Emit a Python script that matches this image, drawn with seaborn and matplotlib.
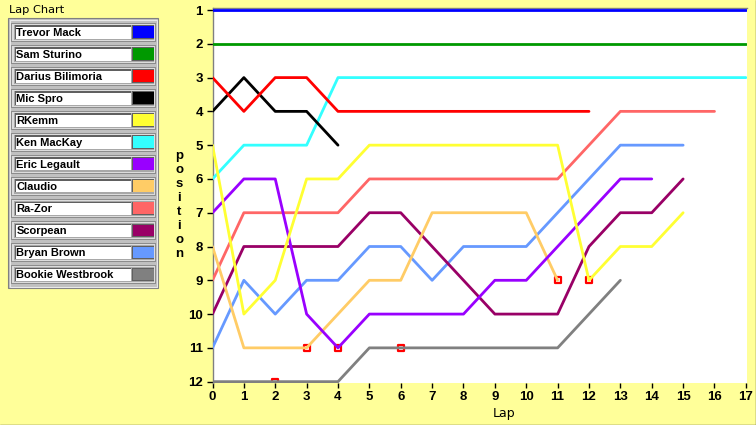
import matplotlib
matplotlib.use("Agg")
import matplotlib.pyplot as plt
from matplotlib.patches import Rectangle
from matplotlib.lines import Line2D
import numpy as np
import pandas as pd
import seaborn as sns

# ---------------- data ----------------
drivers = ["Trevor Mack", "Sam Sturino", "Darius Bilimoria", "Mic Spro", "RKemm",
           "Ken MacKay", "Eric Legault", "Claudio", "Ra-Zor", "Scorpean",
           "Bryan Brown", "Bookie Westbrook"]
colors = ["#0000FF", "#009900", "#FF0000", "#000000", "#FFFF33", "#33FFFF",
          "#9900FF", "#FFCC66", "#FF6666", "#990066", "#6699FF", "#808080"]

trevor_mack = [1, 1, 1, 1, 1, 1, 1, 1, 1, 1, 1, 1, 1, 1, 1, 1, 1, 1]
sam_sturino = [2, 2, 2, 2, 2, 2, 2, 2, 2, 2, 2, 2, 2, 2, 2, 2, 2, 2]
darius_bilimoria = [3, 4, 3, 3, 4, 4, 4, 4, 4, 4, 4, 4, 4]
mic_spro = [4, 3, 4, 4, 5]
rkemm = [5, 10, 9, 6, 6, 5, 5, 5, 5, 5, 5, 5, 9, 8, 8, 7]
ken_mackay = [6, 5, 5, 5, 3, 3, 3, 3, 3, 3, 3, 3, 3, 3, 3, 3, 3, 3]
eric_legault = [7, 6, 6, 10, 11, 10, 10, 10, 10, 9, 9, 8, 7, 6, 6]
claudio = [8, 11, 11, 11, 10, 9, 9, 7, 7, 7, 7, 9]
ra_zor = [9, 7, 7, 7, 7, 6, 6, 6, 6, 6, 6, 6, 5, 4, 4, 4, 4]
scorpean = [10, 8, 8, 8, 8, 7, 7, 8, 9, 10, 10, 10, 8, 7, 7, 6]
bryan_brown = [11, 9, 10, 9, 9, 8, 8, 9, 8, 8, 8, 7, 6, 5, 5, 5]
bookie_westbrook = [12, 12, 12, 12, 12, 11, 11, 11, 11, 11, 11, 11, 10, 9]

series = [trevor_mack, sam_sturino, darius_bilimoria, mic_spro, rkemm, ken_mackay,
          eric_legault, claudio, ra_zor, scorpean, bryan_brown, bookie_westbrook]

# event markers (red squares)
event_laps = [2, 3, 4, 6, 11, 12]
event_positions = [12, 11, 11, 11, 9, 9]

lap_ticks = [0, 1, 2, 3, 4, 5, 6, 7, 8, 9, 10, 11, 12, 13, 14, 15, 16, 17]
position_ticks = [1, 2, 3, 4, 5, 6, 7, 8, 9, 10, 11, 12]

# ---------------- build long frame ----------------
rows = []
for name, vals in zip(drivers, series):
    for lap, pos in enumerate(vals):
        rows.append({"driver": name, "lap": lap, "position": pos})
df = pd.DataFrame(rows)
events = pd.DataFrame({"lap": event_laps, "position": event_positions})

# ---------------- figure ----------------
W, H = 756, 425
BG = "#FFFF99"
sns.set_style("white")
plt.rcParams["font.family"] = ["DejaVu Sans"]

fig = plt.figure(figsize=(W / 100, H / 100), dpi=100, facecolor=BG)

ax_l, ax_r, ax_t, ax_b = 212.5, 746.5, 8, 383
ax = fig.add_axes([ax_l / W, 1 - ax_b / H, (ax_r - ax_l) / W, (ax_b - ax_t) / H])
ax.set_facecolor("white")

sns.scatterplot(data=events, x="lap", y="position", marker="s", s=18,
                facecolor="none", edgecolor="#FF0000", linewidth=1.6,
                ax=ax, zorder=2, legend=False, clip_on=True)

sns.lineplot(data=df, x="lap", y="position", hue="driver",
             hue_order=drivers[::-1], palette=dict(zip(drivers, colors)),
             estimator=None, sort=False, linewidth=2.0, legend=False, ax=ax)
for ln in ax.lines:
    ln.set_zorder(3)

ax.set_xlim(0, 17.02)
ax.set_ylim(12.04, 0.94)
ax.set_xticks(lap_ticks)
ax.set_yticks(position_ticks)
tick_font = dict(family="Liberation Sans", weight="bold", size=9.5)
ax.set_xticklabels([str(v) for v in lap_ticks], fontdict=tick_font)
ax.set_yticklabels([str(v) for v in position_ticks], fontdict=tick_font)
ax.tick_params(axis="both", direction="out", width=1, color="black",
               labelcolor="black", left=True, bottom=True)
ax.tick_params(axis="y", pad=2.5, length=4.5)
ax.tick_params(axis="x", pad=2.5, length=3.5)
ax.set_xlabel("")
ax.set_ylabel("")

for side in ["right", "bottom"]:
    ax.spines[side].set_visible(False)
for side in ["left", "top"]:
    ax.spines[side].set_color("#808080")
    ax.spines[side].set_linewidth(1)

def fx(x):
    return x / W

def fy(y):
    return 1 - y / H

# axis titles
fig.text(fx(504.5), fy(417.3), "Lap", ha="center", va="baseline",
         fontsize=9, family="DejaVu Sans", color="black")
for i, ch in enumerate("position"):
    fig.text(fx(179), fy(159.3 + 14 * i), ch, ha="center", va="baseline",
             fontsize=9.5, family="Liberation Sans", weight="bold", color="black")

fig.text(fx(9), fy(12.7), "Lap Chart", ha="left", va="baseline",
         fontsize=8.2, family="DejaVu Sans", color="black")

# legend panel
def rect(x0, y0, x1, y1, fc, ec="none", lw=0, z=5):
    fig.patches.append(Rectangle((fx(x0), fy(y1)), (x1 - x0) / W, (y1 - y0) / H,
                                 transform=fig.transFigure, facecolor=fc,
                                 edgecolor=ec, linewidth=lw, zorder=z))

rect(8, 18, 158, 288, "#C0C0C0", "#808080", 0.8)
rect(9.5, 19.5, 156.5, 286.5, "none", "#E8E8E8", 0.8)
for i, (name, col) in enumerate(zip(drivers, colors)):
    top = 23 + 22 * i
    rect(11, top, 156, top + 19, "#8C8C8C")
    rect(12, top + 1, 155, top + 18, "#DCDCDC")
    rect(13.5, top + 2, 153.5, top + 17, "#A8A8A8")
    rect(15, top + 2.5, 131, top + 15.5, "#606060")
    rect(16, top + 3.5, 130.5, top + 15.5, "white")
    rect(132, top + 2.5, 154, top + 15.5, "#606060")
    rect(133, top + 3.5, 153.5, top + 15, col)
    fig.text(fx(16.5), fy(top + 12.8), name, ha="left", va="baseline",
             fontsize=8, family="Liberation Sans", weight="bold",
             color="black", zorder=6)

# outer frame (right / bottom dark edge)
fig.lines.append(Line2D([fx(755.5), fx(755.5)], [0, 1], transform=fig.transFigure,
                        color="#5A5A3A", linewidth=1))
fig.lines.append(Line2D([0, 1], [fy(424.5), fy(424.5)], transform=fig.transFigure,
                        color="#5A5A3A", linewidth=1))

fig.savefig("out.png", dpi=100, facecolor=BG)
